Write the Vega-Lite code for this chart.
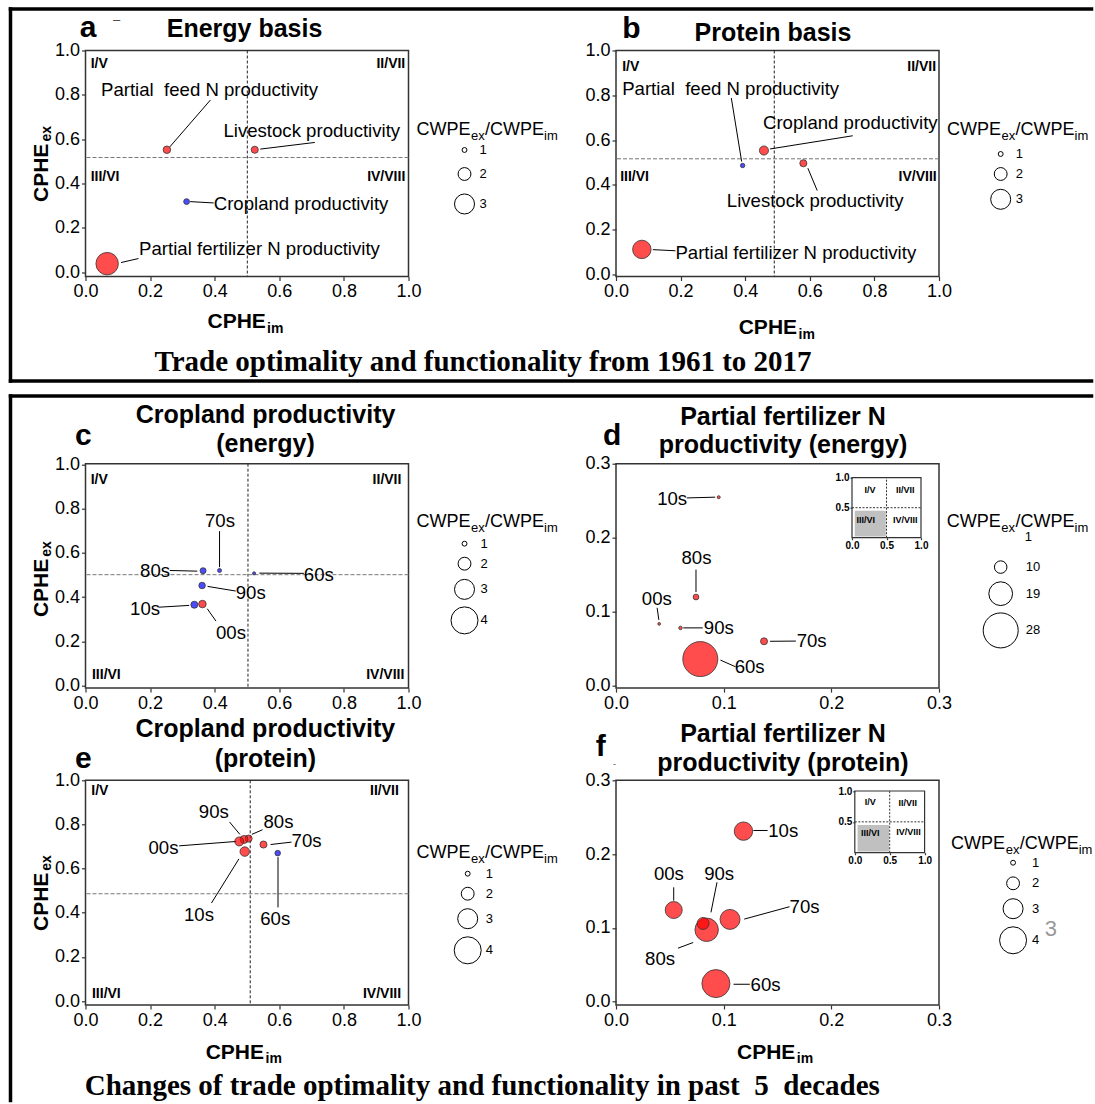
{
"$schema": "https://vega.github.io/schema/vega-lite/v6.json",
"background": "#ffffff",
"padding": {"left": 6.5, "top": 5.5, "right": 0, "bottom": 0},
"autosize": {"type": "pad"},
"columns": 2,
"bounds": "flush",
"align": "each",
"spacing": {"row": 91.6, "column": 207.5},
"resolve": {"scale": {"x": "independent", "y": "independent", "size": "independent", "color": "independent"}, "axis": {"x": "independent", "y": "independent"}},
"config": {
  "view": {"stroke": "#333", "strokeWidth": 1.5},
  "axis": {"labelFont": "Liberation Sans", "labelFontSize": 18, "labelColor": "#000", "tickColor": "#333", "tickSize": 4, "tickWidth": 1.2, "domain": false, "grid": false, "labelFlush": false, "labelPadding": 2},
  "text": {"font": "Liberation Sans", "color": "#000"}
},
"datasets": {
  "a_pts": [
    {"item": "Partial feed N productivity", "label": "Partial\u00a0 feed N productivity", "cphe_im": 0.252, "cphe_ex": 0.552, "ratio": 1.3, "group": "high", "lx": 0.048, "ly": 0.821, "x1": 0.261, "y1": 0.565, "x2": 0.387, "y2": 0.777},
    {"item": "Livestock productivity", "label": "Livestock productivity", "cphe_im": 0.524, "cphe_ex": 0.552, "ratio": 1.25, "group": "high", "lx": 0.427, "ly": 0.635, "x1": 0.541, "y1": 0.555, "x2": 0.71, "y2": 0.585},
    {"item": "Cropland productivity", "label": "Cropland productivity", "cphe_im": 0.313, "cphe_ex": 0.318, "ratio": 1.1, "group": "low", "lx": 0.397, "ly": 0.309, "x1": 0.324, "y1": 0.318, "x2": 0.397, "y2": 0.312},
    {"item": "Partial fertilizer N productivity", "label": "Partial fertilizer N productivity", "cphe_im": 0.067, "cphe_ex": 0.038, "ratio": 3.35, "group": "high", "lx": 0.166, "ly": 0.103, "x1": 0.11, "y1": 0.043, "x2": 0.164, "y2": 0.061}
  ],
  "b_pts": [
    {"item": "Partial feed N productivity", "label": "Partial\u00a0 feed N productivity", "cphe_im": 0.392, "cphe_ex": 0.486, "ratio": 0.95, "group": "low", "lx": 0.019, "ly": 0.828, "x1": 0.389, "y1": 0.504, "x2": 0.357, "y2": 0.788},
    {"item": "Cropland productivity", "label": "Cropland productivity", "cphe_im": 0.458, "cphe_ex": 0.553, "ratio": 1.5, "group": "high", "lx": 0.455, "ly": 0.676, "x1": 0.477, "y1": 0.56, "x2": 0.733, "y2": 0.619},
    {"item": "Livestock productivity", "label": "Livestock productivity", "cphe_im": 0.58, "cphe_ex": 0.496, "ratio": 1.25, "group": "high", "lx": 0.343, "ly": 0.327, "x1": 0.594, "y1": 0.474, "x2": 0.623, "y2": 0.374},
    {"item": "Partial fertilizer N productivity", "label": "Partial fertilizer N productivity", "cphe_im": 0.08, "cphe_ex": 0.111, "ratio": 2.78, "group": "high", "lx": 0.184, "ly": 0.096, "x1": 0.114, "y1": 0.11, "x2": 0.184, "y2": 0.105}
  ],
  "c_pts": [
    {"label": "60s", "cphe_im": 0.522, "cphe_ex": 0.507, "ratio": 0.83, "group": "low", "lx": 0.676, "ly": 0.501, "x1": 0.538, "y1": 0.508, "x2": 0.676, "y2": 0.507},
    {"label": "70s", "cphe_im": 0.415, "cphe_ex": 0.52, "ratio": 0.91, "group": "low", "lx": 0.37, "ly": 0.744, "x1": 0.415, "y1": 0.698, "x2": 0.415, "y2": 0.535},
    {"label": "80s", "cphe_im": 0.364, "cphe_ex": 0.519, "ratio": 1.12, "group": "low", "lx": 0.169, "ly": 0.516, "x1": 0.261, "y1": 0.52, "x2": 0.346, "y2": 0.517},
    {"label": "90s", "cphe_im": 0.361, "cphe_ex": 0.452, "ratio": 1.18, "group": "low", "lx": 0.465, "ly": 0.418, "x1": 0.378, "y1": 0.448, "x2": 0.465, "y2": 0.427},
    {"label": "00s", "cphe_im": 0.362, "cphe_ex": 0.368, "ratio": 1.3, "group": "high", "lx": 0.404, "ly": 0.237, "x1": 0.377, "y1": 0.347, "x2": 0.404, "y2": 0.291},
    {"label": "10s", "cphe_im": 0.337, "cphe_ex": 0.365, "ratio": 1.24, "group": "low", "lx": 0.138, "ly": 0.347, "x1": 0.228, "y1": 0.354, "x2": 0.321, "y2": 0.362}
  ],
  "d_pts": [
    {"label": "60s", "cphe_im": 0.0783, "cphe_ex": 0.0362, "ratio": 28, "group": "high", "lx": 0.1102, "ly": 0.0258, "x1": 0.097, "y1": 0.0348, "x2": 0.111, "y2": 0.0258},
    {"label": "70s", "cphe_im": 0.1375, "cphe_ex": 0.0602, "ratio": 5.6, "group": "high", "lx": 0.1678, "ly": 0.0602, "x1": 0.1431, "y1": 0.0602, "x2": 0.1671, "y2": 0.0605},
    {"label": "80s", "cphe_im": 0.0743, "cphe_ex": 0.12, "ratio": 4.6, "group": "high", "lx": 0.0608, "ly": 0.172, "x1": 0.0743, "y1": 0.157, "x2": 0.0743, "y2": 0.1267},
    {"label": "90s", "cphe_im": 0.0599, "cphe_ex": 0.0783, "ratio": 2.8, "group": "high", "lx": 0.0816, "ly": 0.0783, "x1": 0.0625, "y1": 0.0783, "x2": 0.0806, "y2": 0.0783},
    {"label": "00s", "cphe_im": 0.0401, "cphe_ex": 0.0837, "ratio": 2.2, "group": "high", "lx": 0.024, "ly": 0.1176, "x1": 0.0382, "y1": 0.1054, "x2": 0.0398, "y2": 0.0891},
    {"label": "10s", "cphe_im": 0.0954, "cphe_ex": 0.2548, "ratio": 2.4, "group": "high", "lx": 0.0382, "ly": 0.2525, "x1": 0.0658, "y1": 0.2538, "x2": 0.0921, "y2": 0.2548}
  ],
  "e_pts": [
    {"label": "60s", "cphe_im": 0.595, "cphe_ex": 0.67, "ratio": 1.07, "group": "low", "lx": 0.541, "ly": 0.371, "x1": 0.596, "y1": 0.652, "x2": 0.596, "y2": 0.424},
    {"label": "70s", "cphe_im": 0.551, "cphe_ex": 0.709, "ratio": 1.25, "group": "high", "lx": 0.638, "ly": 0.723, "x1": 0.573, "y1": 0.709, "x2": 0.638, "y2": 0.72},
    {"label": "80s", "cphe_im": 0.505, "cphe_ex": 0.736, "ratio": 1.25, "group": "high", "lx": 0.551, "ly": 0.811, "x1": 0.515, "y1": 0.755, "x2": 0.548, "y2": 0.776},
    {"label": "90s", "cphe_im": 0.491, "cphe_ex": 0.732, "ratio": 1.36, "group": "high", "lx": 0.351, "ly": 0.856, "x1": 0.446, "y1": 0.811, "x2": 0.478, "y2": 0.755},
    {"label": "00s", "cphe_im": 0.476, "cphe_ex": 0.723, "ratio": 1.49, "group": "high", "lx": 0.195, "ly": 0.692, "x1": 0.29, "y1": 0.703, "x2": 0.467, "y2": 0.723},
    {"label": "10s", "cphe_im": 0.493, "cphe_ex": 0.677, "ratio": 1.55, "group": "high", "lx": 0.305, "ly": 0.391, "x1": 0.39, "y1": 0.444, "x2": 0.475, "y2": 0.644}
  ],
  "f_pts": [
    {"label": "60s", "cphe_im": 0.0928, "cphe_ex": 0.0245, "ratio": 4.15, "group": "high", "lx": 0.125, "ly": 0.0227, "x1": 0.1092, "y1": 0.0236, "x2": 0.1243, "y2": 0.0236},
    {"label": "70s", "cphe_im": 0.1059, "cphe_ex": 0.1115, "ratio": 3.0, "group": "high", "lx": 0.1612, "ly": 0.1287, "x1": 0.1191, "y1": 0.1119, "x2": 0.1612, "y2": 0.1287},
    {"label": "80s", "cphe_im": 0.0842, "cphe_ex": 0.0974, "ratio": 3.49, "group": "high", "lx": 0.027, "ly": 0.0575, "x1": 0.0576, "y1": 0.0725, "x2": 0.0717, "y2": 0.0802},
    {"label": "90s", "cphe_im": 0.0809, "cphe_ex": 0.106, "ratio": 1.89, "group": "high", "lx": 0.0819, "ly": 0.173, "x1": 0.0938, "y1": 0.1618, "x2": 0.0882, "y2": 0.121},
    {"label": "00s", "cphe_im": 0.0536, "cphe_ex": 0.1242, "ratio": 2.58, "group": "high", "lx": 0.0352, "ly": 0.173, "x1": 0.0536, "y1": 0.155, "x2": 0.0536, "y2": 0.137},
    {"label": "10s", "cphe_im": 0.1184, "cphe_ex": 0.2311, "ratio": 2.78, "group": "high", "lx": 0.1414, "ly": 0.2311, "x1": 0.1276, "y1": 0.232, "x2": 0.1408, "y2": 0.232}
  ]
},
"concat": [
{
  "width": 323, "height": 226,
  "layer": [
    {"data": {"values": [{}]}, "mark": {"type": "rule", "color": "#000", "strokeWidth": 3.5, "strokeCap": "square"}, "encoding": {"x": {"datum": -0.2322}, "x2": {"datum": 3.1146}, "y": {"datum": 1.1873}}},
    {"data": {"values": [{}]}, "mark": {"type": "rule", "color": "#000", "strokeWidth": 3.5, "strokeCap": "square"}, "encoding": {"x": {"datum": -0.2322}, "x2": {"datum": 3.1146}, "y": {"datum": -0.4917}}},
    {"data": {"values": [{}]}, "mark": {"type": "rule", "color": "#000", "strokeWidth": 3.5, "strokeCap": "square"}, "encoding": {"x": {"datum": -0.2322}, "y": {"datum": 1.1873}, "y2": {"datum": -0.4917}}},
    {"data": {"values": [{}]}, "mark": {"type": "rule", "color": "#222", "strokeWidth": 1, "strokeDash": [3, 2]}, "encoding": {"x": {"datum": 0.501}}},
    {"data": {"values": [{}]}, "mark": {"type": "rule", "color": "#777", "strokeWidth": 1, "strokeDash": [4, 2]}, "encoding": {"y": {"datum": 0.517}}},
    {"data": {"name": "a_pts"}, "mark": {"type": "rule", "color": "#000", "strokeWidth": 1}, "encoding": {"x": {"field": "x1", "type": "quantitative", "title": null}, "y": {"field": "y1", "type": "quantitative", "title": null}, "x2": {"field": "x2"}, "y2": {"field": "y2"}}},
    {"data": {"name": "a_pts"}, "mark": {"type": "circle", "opacity": 1, "fillOpacity": 0.7, "stroke": "#333", "strokeWidth": 0.8},
     "encoding": {
       "x": {"field": "cphe_im", "type": "quantitative", "title": null, "scale": {"domain": [0, 1], "nice": false}, "axis": {"values": [0, 0.2, 0.4, 0.6, 0.8, 1], "format": ".1f", "labelFlush": false, "title": null}},
       "y": {"field": "cphe_ex", "type": "quantitative", "title": null, "scale": {"domain": [-0.02, 1], "nice": false}, "axis": {"values": [0, 0.2, 0.4, 0.6, 0.8, 1], "format": ".1f", "labelFlush": false, "title": null}},
       "size": {"field": "ratio", "type": "quantitative", "scale": {"type": "pow", "exponent": 2, "domain": [0.7, 3], "range": [0, 400], "zero": false}, "legend": null},
       "color": {"field": "group", "type": "nominal", "scale": {"domain": ["high", "low"], "range": ["#ff0000", "#0000ff"]}, "legend": null}}},
    {"data": {"name": "a_pts"}, "mark": {"type": "text", "fontSize": 18.6, "align": "left", "baseline": "middle"}, "encoding": {"x": {"field": "lx", "type": "quantitative", "title": null}, "y": {"field": "ly", "type": "quantitative", "title": null}, "text": {"field": "label"}}},
    {"data": {"values": [{}]}, "mark": {"type": "text", "text": "I/V", "fontSize": 14, "fontWeight": "bold", "align": "left", "baseline": "middle"}, "encoding": {"x": {"datum": 0.016}, "y": {"datum": 0.939}}},
    {"data": {"values": [{}]}, "mark": {"type": "text", "text": "II/VII", "fontSize": 14, "fontWeight": "bold", "align": "right", "baseline": "middle"}, "encoding": {"x": {"datum": 0.99}, "y": {"datum": 0.939}}},
    {"data": {"values": [{}]}, "mark": {"type": "text", "text": "III/VI", "fontSize": 14, "fontWeight": "bold", "align": "left", "baseline": "middle"}, "encoding": {"x": {"datum": 0.016}, "y": {"datum": 0.43}}},
    {"data": {"values": [{}]}, "mark": {"type": "text", "text": "IV/VIII", "fontSize": 14, "fontWeight": "bold", "align": "right", "baseline": "middle"}, "encoding": {"x": {"datum": 0.99}, "y": {"datum": 0.43}}},
    {"data": {"values": [{}]}, "mark": {"type": "text", "text": "Energy basis", "fontSize": 25, "fontWeight": "bold", "align": "center", "baseline": "middle"}, "encoding": {"x": {"datum": 0.4923}, "y": {"datum": 1.0957}}},
    {"data": {"values": [{}]}, "mark": {"type": "text", "text": "a", "fontSize": 30, "fontWeight": "bold", "align": "center", "baseline": "alphabetic"}, "encoding": {"x": {"datum": 0.0077}, "y": {"datum": 1.0609}}},
    {"data": {"values": [{}]}, "mark": {"type": "text", "text": "\u2013", "fontSize": 13, "align": "center", "baseline": "middle", "color": "#444"}, "encoding": {"x": {"datum": 0.096}, "y": {"datum": 1.1377}}},
    {"data": {"values": [{}]}, "mark": {"type": "text", "text": "CPHE", "fontSize": 21, "fontWeight": "bold", "align": "left", "baseline": "alphabetic", "angle": 270}, "encoding": {"x": {"datum": -0.1176}, "y": {"datum": 0.3163}}},
    {"data": {"values": [{}]}, "mark": {"type": "text", "text": "ex", "fontSize": 14, "fontWeight": "bold", "align": "left", "baseline": "alphabetic", "angle": 270}, "encoding": {"x": {"datum": -0.1068}, "y": {"datum": 0.5893}}},
    {"data": {"values": [{}]}, "mark": {"type": "text", "text": "CPHE", "fontSize": 21, "fontWeight": "bold", "align": "left", "baseline": "alphabetic"}, "encoding": {"x": {"datum": 0.3777}, "y": {"datum": -0.2524}}},
    {"data": {"values": [{}]}, "mark": {"type": "text", "text": "im", "fontSize": 14, "fontWeight": "bold", "align": "left", "baseline": "alphabetic"}, "encoding": {"x": {"datum": 0.5619}, "y": {"datum": -0.2749}}},
    {"data": {"values": [{}]}, "mark": {"type": "text", "text": "CWPE", "fontSize": 18, "align": "left", "baseline": "alphabetic"}, "encoding": {"x": {"datum": 1.0248}, "y": {"datum": 0.62}}},
    {"data": {"values": [{}]}, "mark": {"type": "text", "text": "ex", "fontSize": 13, "align": "left", "baseline": "alphabetic"}, "encoding": {"x": {"datum": 1.1935}, "y": {"datum": 0.5974}}},
    {"data": {"values": [{}]}, "mark": {"type": "text", "text": "/CWPE", "fontSize": 18, "align": "left", "baseline": "alphabetic"}, "encoding": {"x": {"datum": 1.2368}, "y": {"datum": 0.62}}},
    {"data": {"values": [{}]}, "mark": {"type": "text", "text": "im", "fontSize": 13, "align": "left", "baseline": "alphabetic"}, "encoding": {"x": {"datum": 1.4195}, "y": {"datum": 0.5974}}},
    {"data": {"values": [{"ratio": 1}]}, "encoding": {"x": {"datum": 1.1734}, "y": {"datum": 0.551}}, "layer": [
      {"mark": {"type": "point", "shape": "circle", "filled": false, "color": "#000", "strokeWidth": 1, "opacity": 1}, "encoding": {"size": {"field": "ratio", "type": "quantitative", "scale": {"type": "pow", "exponent": 2, "domain": [0.7, 3], "range": [0, 400], "zero": false}, "legend": null}}},
      {"mark": {"type": "text", "text": "1", "fontSize": 13, "align": "left", "baseline": "middle", "dx": 15}}]},
    {"data": {"values": [{"ratio": 2}]}, "encoding": {"x": {"datum": 1.1734}, "y": {"datum": 0.4426}}, "layer": [
      {"mark": {"type": "point", "shape": "circle", "filled": false, "color": "#000", "strokeWidth": 1, "opacity": 1}, "encoding": {"size": {"field": "ratio", "type": "quantitative", "scale": {"type": "pow", "exponent": 2, "domain": [0.7, 3], "range": [0, 400], "zero": false}, "legend": null}}},
      {"mark": {"type": "text", "text": "2", "fontSize": 13, "align": "left", "baseline": "middle", "dx": 15}}]},
    {"data": {"values": [{"ratio": 3}]}, "encoding": {"x": {"datum": 1.1734}, "y": {"datum": 0.3073}}, "layer": [
      {"mark": {"type": "point", "shape": "circle", "filled": false, "color": "#000", "strokeWidth": 1, "opacity": 1}, "encoding": {"size": {"field": "ratio", "type": "quantitative", "scale": {"type": "pow", "exponent": 2, "domain": [0.7, 3], "range": [0, 400], "zero": false}, "legend": null}}},
      {"mark": {"type": "text", "text": "3", "fontSize": 13, "align": "left", "baseline": "middle", "dx": 15}}]},
    {"data": {"values": [{}]}, "mark": {"type": "text", "text": "Trade optimality and functionality from 1961 to 2017", "font": "Liberation Serif", "fontSize": 29, "fontWeight": "bold", "align": "left", "baseline": "middle"}, "encoding": {"x": {"datum": 0.2136}, "y": {"datum": -0.4058}}}
  ]
},
{
  "width": 323, "height": 226,
  "layer": [
    {"data": {"values": [{}]}, "mark": {"type": "rule", "color": "#222", "strokeWidth": 1, "strokeDash": [3, 2]}, "encoding": {"x": {"datum": 0.49}}},
    {"data": {"values": [{}]}, "mark": {"type": "rule", "color": "#777", "strokeWidth": 1, "strokeDash": [4, 2]}, "encoding": {"y": {"datum": 0.516}}},
    {"data": {"name": "b_pts"}, "mark": {"type": "rule", "color": "#000", "strokeWidth": 1}, "encoding": {"x": {"field": "x1", "type": "quantitative", "title": null}, "y": {"field": "y1", "type": "quantitative", "title": null}, "x2": {"field": "x2"}, "y2": {"field": "y2"}}},
    {"data": {"name": "b_pts"}, "mark": {"type": "circle", "opacity": 1, "fillOpacity": 0.7, "stroke": "#333", "strokeWidth": 0.8},
     "encoding": {
       "x": {"field": "cphe_im", "type": "quantitative", "title": null, "scale": {"domain": [0, 1], "nice": false}, "axis": {"values": [0, 0.2, 0.4, 0.6, 0.8, 1], "format": ".1f", "labelFlush": false, "title": null}},
       "y": {"field": "cphe_ex", "type": "quantitative", "title": null, "scale": {"domain": [-0.01, 1], "nice": false}, "axis": {"values": [0, 0.2, 0.4, 0.6, 0.8, 1], "format": ".1f", "labelFlush": false, "title": null}},
       "size": {"field": "ratio", "type": "quantitative", "scale": {"type": "pow", "exponent": 2, "domain": [0.7, 3], "range": [0, 400], "zero": false}, "legend": null},
       "color": {"field": "group", "type": "nominal", "scale": {"domain": ["high", "low"], "range": ["#ff0000", "#0000ff"]}, "legend": null}}},
    {"data": {"name": "b_pts"}, "mark": {"type": "text", "fontSize": 18.6, "align": "left", "baseline": "middle"}, "encoding": {"x": {"field": "lx", "type": "quantitative", "title": null}, "y": {"field": "ly", "type": "quantitative", "title": null}, "text": {"field": "label"}}},
    {"data": {"values": [{}]}, "mark": {"type": "text", "text": "I/V", "fontSize": 14, "fontWeight": "bold", "align": "left", "baseline": "middle"}, "encoding": {"x": {"datum": 0.019}, "y": {"datum": 0.925}}},
    {"data": {"values": [{}]}, "mark": {"type": "text", "text": "II/VII", "fontSize": 14, "fontWeight": "bold", "align": "right", "baseline": "middle"}, "encoding": {"x": {"datum": 0.991}, "y": {"datum": 0.925}}},
    {"data": {"values": [{}]}, "mark": {"type": "text", "text": "III/VI", "fontSize": 14, "fontWeight": "bold", "align": "left", "baseline": "middle"}, "encoding": {"x": {"datum": 0.013}, "y": {"datum": 0.436}}},
    {"data": {"values": [{}]}, "mark": {"type": "text", "text": "IV/VIII", "fontSize": 14, "fontWeight": "bold", "align": "right", "baseline": "middle"}, "encoding": {"x": {"datum": 0.993}, "y": {"datum": 0.436}}},
    {"data": {"values": [{}]}, "mark": {"type": "text", "text": "Protein basis", "fontSize": 25, "fontWeight": "bold", "align": "center", "baseline": "middle"}, "encoding": {"x": {"datum": 0.486}, "y": {"datum": 1.0782}}},
    {"data": {"values": [{}]}, "mark": {"type": "text", "text": "b", "fontSize": 30, "fontWeight": "bold", "align": "center", "baseline": "alphabetic"}, "encoding": {"x": {"datum": 0.048}, "y": {"datum": 1.0559}}},
    {"data": {"values": [{}]}, "mark": {"type": "text", "text": "CPHE", "fontSize": 21, "fontWeight": "bold", "align": "left", "baseline": "alphabetic"}, "encoding": {"x": {"datum": 0.3799}, "y": {"datum": -0.267}}},
    {"data": {"values": [{}]}, "mark": {"type": "text", "text": "im", "fontSize": 14, "fontWeight": "bold", "align": "left", "baseline": "alphabetic"}, "encoding": {"x": {"datum": 0.565}, "y": {"datum": -0.2893}}},
    {"data": {"values": [{}]}, "mark": {"type": "text", "text": "CWPE", "fontSize": 18, "align": "left", "baseline": "alphabetic"}, "encoding": {"x": {"datum": 1.0245}, "y": {"datum": 0.6224}}},
    {"data": {"values": [{}]}, "mark": {"type": "text", "text": "ex", "fontSize": 13, "align": "left", "baseline": "alphabetic"}, "encoding": {"x": {"datum": 1.1932}, "y": {"datum": 0.6}}},
    {"data": {"values": [{}]}, "mark": {"type": "text", "text": "/CWPE", "fontSize": 18, "align": "left", "baseline": "alphabetic"}, "encoding": {"x": {"datum": 1.2365}, "y": {"datum": 0.6224}}},
    {"data": {"values": [{}]}, "mark": {"type": "text", "text": "im", "fontSize": 13, "align": "left", "baseline": "alphabetic"}, "encoding": {"x": {"datum": 1.4195}, "y": {"datum": 0.6}}},
    {"data": {"values": [{"ratio": 1}]}, "encoding": {"x": {"datum": 1.191}, "y": {"datum": 0.5375}}, "layer": [
      {"mark": {"type": "point", "shape": "circle", "filled": false, "color": "#000", "strokeWidth": 1, "opacity": 1}, "encoding": {"size": {"field": "ratio", "type": "quantitative", "scale": {"type": "pow", "exponent": 2, "domain": [0.7, 3], "range": [0, 400], "zero": false}, "legend": null}}},
      {"mark": {"type": "text", "text": "1", "fontSize": 13, "align": "left", "baseline": "middle", "dx": 15}}]},
    {"data": {"values": [{"ratio": 2}]}, "encoding": {"x": {"datum": 1.191}, "y": {"datum": 0.4481}}, "layer": [
      {"mark": {"type": "point", "shape": "circle", "filled": false, "color": "#000", "strokeWidth": 1, "opacity": 1}, "encoding": {"size": {"field": "ratio", "type": "quantitative", "scale": {"type": "pow", "exponent": 2, "domain": [0.7, 3], "range": [0, 400], "zero": false}, "legend": null}}},
      {"mark": {"type": "text", "text": "2", "fontSize": 13, "align": "left", "baseline": "middle", "dx": 15}}]},
    {"data": {"values": [{"ratio": 3}]}, "encoding": {"x": {"datum": 1.191}, "y": {"datum": 0.335}}, "layer": [
      {"mark": {"type": "point", "shape": "circle", "filled": false, "color": "#000", "strokeWidth": 1, "opacity": 1}, "encoding": {"size": {"field": "ratio", "type": "quantitative", "scale": {"type": "pow", "exponent": 2, "domain": [0.7, 3], "range": [0, 400], "zero": false}, "legend": null}}},
      {"mark": {"type": "text", "text": "3", "fontSize": 13, "align": "left", "baseline": "middle", "dx": 15}}]}
  ]
},
{"width": 10, "height": 3.6, "view": {"stroke": null}, "data": {"values": []}, "mark": "point"},
{"width": 10, "height": 3.6, "view": {"stroke": null}, "data": {"values": []}, "mark": "point"},
{
  "width": 323, "height": 224.4,
  "layer": [
    {"data": {"values": [{}]}, "mark": {"type": "rule", "color": "#000", "strokeWidth": 3.5, "strokeCap": "square"}, "encoding": {"x": {"datum": -0.2322}, "x2": {"datum": 3.1146}, "y": {"datum": 1.3088}}},
    {"data": {"values": [{}]}, "mark": {"type": "rule", "color": "#000", "strokeWidth": 3.5, "strokeCap": "square"}, "encoding": {"x": {"datum": -0.2322}, "y": {"datum": 1.3088}, "y2": {"datum": -1.8768}}},
    {"data": {"values": [{}]}, "mark": {"type": "rule", "color": "#222", "strokeWidth": 1, "strokeDash": [3, 2]}, "encoding": {"x": {"datum": 0.503}}},
    {"data": {"values": [{}]}, "mark": {"type": "rule", "color": "#777", "strokeWidth": 1, "strokeDash": [4, 2]}, "encoding": {"y": {"datum": 0.501}}},
    {"data": {"name": "c_pts"}, "mark": {"type": "rule", "color": "#000", "strokeWidth": 1}, "encoding": {"x": {"field": "x1", "type": "quantitative", "title": null}, "y": {"field": "y1", "type": "quantitative", "title": null}, "x2": {"field": "x2"}, "y2": {"field": "y2"}}},
    {"data": {"name": "c_pts"}, "mark": {"type": "circle", "opacity": 1, "fillOpacity": 0.7, "stroke": "#333", "strokeWidth": 0.8},
     "encoding": {
       "x": {"field": "cphe_im", "type": "quantitative", "title": null, "scale": {"domain": [0, 1], "nice": false}, "axis": {"values": [0, 0.2, 0.4, 0.6, 0.8, 1], "format": ".1f", "labelFlush": false, "title": null}},
       "y": {"field": "cphe_ex", "type": "quantitative", "title": null, "scale": {"domain": [-0.012, 1.003], "nice": false}, "axis": {"values": [0, 0.2, 0.4, 0.6, 0.8, 1], "format": ".1f", "labelFlush": false, "title": null}},
       "size": {"field": "ratio", "type": "quantitative", "scale": {"type": "pow", "exponent": 2, "domain": [0.7, 3], "range": [0, 400], "zero": false}, "legend": null},
       "color": {"field": "group", "type": "nominal", "scale": {"domain": ["high", "low"], "range": ["#ff0000", "#0000ff"]}, "legend": null}}},
    {"data": {"name": "c_pts"}, "mark": {"type": "text", "fontSize": 18.6, "align": "left", "baseline": "middle"}, "encoding": {"x": {"field": "lx", "type": "quantitative", "title": null}, "y": {"field": "ly", "type": "quantitative", "title": null}, "text": {"field": "label"}}},
    {"data": {"values": [{}]}, "mark": {"type": "text", "text": "I/V", "fontSize": 14, "fontWeight": "bold", "align": "left", "baseline": "middle"}, "encoding": {"x": {"datum": 0.016}, "y": {"datum": 0.931}}},
    {"data": {"values": [{}]}, "mark": {"type": "text", "text": "II/VII", "fontSize": 14, "fontWeight": "bold", "align": "right", "baseline": "middle"}, "encoding": {"x": {"datum": 0.978}, "y": {"datum": 0.931}}},
    {"data": {"values": [{}]}, "mark": {"type": "text", "text": "III/VI", "fontSize": 14, "fontWeight": "bold", "align": "left", "baseline": "middle"}, "encoding": {"x": {"datum": 0.02}, "y": {"datum": 0.045}}},
    {"data": {"values": [{}]}, "mark": {"type": "text", "text": "IV/VIII", "fontSize": 14, "fontWeight": "bold", "align": "right", "baseline": "middle"}, "encoding": {"x": {"datum": 0.987}, "y": {"datum": 0.045}}},
    {"data": {"values": [{}]}, "mark": {"type": "text", "text": "Cropland productivity", "fontSize": 25, "fontWeight": "bold", "align": "center", "baseline": "middle"}, "encoding": {"x": {"datum": 0.5573}, "y": {"datum": 1.2215}}},
    {"data": {"values": [{}]}, "mark": {"type": "text", "text": "(energy)", "fontSize": 25, "fontWeight": "bold", "align": "center", "baseline": "middle"}, "encoding": {"x": {"datum": 0.5573}, "y": {"datum": 1.0935}}},
    {"data": {"values": [{}]}, "mark": {"type": "text", "text": "c", "fontSize": 30, "fontWeight": "bold", "align": "center", "baseline": "alphabetic"}, "encoding": {"x": {"datum": -0.0068}, "y": {"datum": 1.0858}}},
    {"data": {"values": [{}]}, "mark": {"type": "text", "text": "CPHE", "fontSize": 21, "fontWeight": "bold", "align": "left", "baseline": "alphabetic", "angle": 270}, "encoding": {"x": {"datum": -0.1164}, "y": {"datum": 0.3092}}},
    {"data": {"values": [{}]}, "mark": {"type": "text", "text": "ex", "fontSize": 14, "fontWeight": "bold", "align": "left", "baseline": "alphabetic", "angle": 270}, "encoding": {"x": {"datum": -0.1059}, "y": {"datum": 0.582}}},
    {"data": {"values": [{}]}, "mark": {"type": "text", "text": "CWPE", "fontSize": 18, "align": "left", "baseline": "alphabetic"}, "encoding": {"x": {"datum": 1.0248}, "y": {"datum": 0.7149}}},
    {"data": {"values": [{}]}, "mark": {"type": "text", "text": "ex", "fontSize": 13, "align": "left", "baseline": "alphabetic"}, "encoding": {"x": {"datum": 1.1935}, "y": {"datum": 0.6923}}},
    {"data": {"values": [{}]}, "mark": {"type": "text", "text": "/CWPE", "fontSize": 18, "align": "left", "baseline": "alphabetic"}, "encoding": {"x": {"datum": 1.2368}, "y": {"datum": 0.7149}}},
    {"data": {"values": [{}]}, "mark": {"type": "text", "text": "im", "fontSize": 13, "align": "left", "baseline": "alphabetic"}, "encoding": {"x": {"datum": 1.4195}, "y": {"datum": 0.6923}}},
    {"data": {"values": [{"ratio": 1}]}, "encoding": {"x": {"datum": 1.1734}, "y": {"datum": 0.6412}}, "layer": [
      {"mark": {"type": "point", "shape": "circle", "filled": false, "color": "#000", "strokeWidth": 1, "opacity": 1}, "encoding": {"size": {"field": "ratio", "type": "quantitative", "scale": {"type": "pow", "exponent": 2, "domain": [0.7, 3], "range": [0, 400], "zero": false}, "legend": null}}},
      {"mark": {"type": "text", "text": "1", "fontSize": 13, "align": "left", "baseline": "middle", "dx": 16}}]},
    {"data": {"values": [{"ratio": 2}]}, "encoding": {"x": {"datum": 1.1734}, "y": {"datum": 0.5507}}, "layer": [
      {"mark": {"type": "point", "shape": "circle", "filled": false, "color": "#000", "strokeWidth": 1, "opacity": 1}, "encoding": {"size": {"field": "ratio", "type": "quantitative", "scale": {"type": "pow", "exponent": 2, "domain": [0.7, 3], "range": [0, 400], "zero": false}, "legend": null}}},
      {"mark": {"type": "text", "text": "2", "fontSize": 13, "align": "left", "baseline": "middle", "dx": 16}}]},
    {"data": {"values": [{"ratio": 3}]}, "encoding": {"x": {"datum": 1.1734}, "y": {"datum": 0.4345}}, "layer": [
      {"mark": {"type": "point", "shape": "circle", "filled": false, "color": "#000", "strokeWidth": 1, "opacity": 1}, "encoding": {"size": {"field": "ratio", "type": "quantitative", "scale": {"type": "pow", "exponent": 2, "domain": [0.7, 3], "range": [0, 400], "zero": false}, "legend": null}}},
      {"mark": {"type": "text", "text": "3", "fontSize": 13, "align": "left", "baseline": "middle", "dx": 16}}]},
    {"data": {"values": [{"ratio": 4}]}, "encoding": {"x": {"datum": 1.1734}, "y": {"datum": 0.2943}}, "layer": [
      {"mark": {"type": "point", "shape": "circle", "filled": false, "color": "#000", "strokeWidth": 1, "opacity": 1}, "encoding": {"size": {"field": "ratio", "type": "quantitative", "scale": {"type": "pow", "exponent": 2, "domain": [0.7, 3], "range": [0, 400], "zero": false}, "legend": null}}},
      {"mark": {"type": "text", "text": "4", "fontSize": 13, "align": "left", "baseline": "middle", "dx": 16}}]}
  ]
},
{
  "width": 323, "height": 224.4,
  "resolve": {"scale": {"x": "independent", "y": "independent"}, "axis": {"x": "independent", "y": "independent"}},
  "layer": [
    {"layer": [
      {"data": {"name": "d_pts"}, "mark": {"type": "rule", "color": "#000", "strokeWidth": 1}, "encoding": {"x": {"field": "x1", "type": "quantitative", "title": null}, "y": {"field": "y1", "type": "quantitative", "title": null}, "x2": {"field": "x2"}, "y2": {"field": "y2"}}},
      {"data": {"name": "d_pts"}, "mark": {"type": "circle", "opacity": 1, "fillOpacity": 0.7, "stroke": "#333", "strokeWidth": 0.8},
       "encoding": {
         "x": {"field": "cphe_im", "type": "quantitative", "title": null, "scale": {"domain": [0, 0.3], "nice": false}, "axis": {"orient": "bottom", "values": [0, 0.1, 0.2, 0.3], "format": ".1f", "labelFlush": false, "title": null}},
         "y": {"field": "cphe_ex", "type": "quantitative", "title": null, "scale": {"domain": [-0.003, 0.3], "nice": false}, "axis": {"orient": "left", "values": [0, 0.1, 0.2, 0.3], "format": ".1f", "labelFlush": false, "title": null}},
         "size": {"field": "ratio", "type": "quantitative", "scale": {"type": "pow", "exponent": 2, "domain": [0, 28], "range": [0, 1225], "zero": true}, "legend": null},
         "color": {"field": "group", "type": "nominal", "scale": {"domain": ["high", "low"], "range": ["#ff0000", "#0000ff"]}, "legend": null}}},
      {"data": {"name": "d_pts"}, "mark": {"type": "text", "fontSize": 18.6, "align": "left", "baseline": "middle"}, "encoding": {"x": {"field": "lx", "type": "quantitative", "title": null}, "y": {"field": "ly", "type": "quantitative", "title": null}, "text": {"field": "label"}}},
      {"data": {"values": [{}]}, "mark": {"type": "text", "text": "Partial fertilizer N", "fontSize": 25, "fontWeight": "bold", "align": "center", "baseline": "middle"}, "encoding": {"x": {"datum": 0.1551}, "y": {"datum": 0.3629}}},
      {"data": {"values": [{}]}, "mark": {"type": "text", "text": "productivity (energy)", "fontSize": 25, "fontWeight": "bold", "align": "center", "baseline": "middle"}, "encoding": {"x": {"datum": 0.1551}, "y": {"datum": 0.3247}}},
      {"data": {"values": [{}]}, "mark": {"type": "text", "text": "d", "fontSize": 30, "fontWeight": "bold", "align": "center", "baseline": "alphabetic"}, "encoding": {"x": {"datum": -0.0035}, "y": {"datum": 0.3247}}},
      {"data": {"values": [{}]}, "mark": {"type": "text", "text": "CWPE", "fontSize": 18, "align": "left", "baseline": "alphabetic"}, "encoding": {"x": {"datum": 0.3073}, "y": {"datum": 0.214}}},
      {"data": {"values": [{}]}, "mark": {"type": "text", "text": "ex", "fontSize": 13, "align": "left", "baseline": "alphabetic"}, "encoding": {"x": {"datum": 0.3579}, "y": {"datum": 0.2072}}},
      {"data": {"values": [{}]}, "mark": {"type": "text", "text": "/CWPE", "fontSize": 18, "align": "left", "baseline": "alphabetic"}, "encoding": {"x": {"datum": 0.371}, "y": {"datum": 0.214}}},
      {"data": {"values": [{}]}, "mark": {"type": "text", "text": "im", "fontSize": 13, "align": "left", "baseline": "alphabetic"}, "encoding": {"x": {"datum": 0.4259}, "y": {"datum": 0.2072}}},
      {"data": {"values": [{}]}, "mark": {"type": "text", "text": "1", "fontSize": 13, "align": "center", "baseline": "middle"}, "encoding": {"x": {"datum": 0.3829}, "y": {"datum": 0.2005}}},
      {"data": {"values": [{"ratio": 10}]}, "encoding": {"x": {"datum": 0.3573}, "y": {"datum": 0.1604}}, "layer": [
        {"mark": {"type": "point", "shape": "circle", "filled": false, "color": "#000", "strokeWidth": 1, "opacity": 1}, "encoding": {"size": {"field": "ratio", "type": "quantitative", "scale": {"type": "pow", "exponent": 2, "domain": [0, 28], "range": [0, 1225], "zero": true}, "legend": null}}},
        {"mark": {"type": "text", "text": "10", "fontSize": 13, "align": "left", "baseline": "middle", "dx": 25}}]},
      {"data": {"values": [{"ratio": 19}]}, "encoding": {"x": {"datum": 0.3573}, "y": {"datum": 0.1245}}, "layer": [
        {"mark": {"type": "point", "shape": "circle", "filled": false, "color": "#000", "strokeWidth": 1, "opacity": 1}, "encoding": {"size": {"field": "ratio", "type": "quantitative", "scale": {"type": "pow", "exponent": 2, "domain": [0, 28], "range": [0, 1225], "zero": true}, "legend": null}}},
        {"mark": {"type": "text", "text": "19", "fontSize": 13, "align": "left", "baseline": "middle", "dx": 25}}]},
      {"data": {"values": [{"ratio": 28}]}, "encoding": {"x": {"datum": 0.3573}, "y": {"datum": 0.0749}}, "layer": [
        {"mark": {"type": "point", "shape": "circle", "filled": false, "color": "#000", "strokeWidth": 1, "opacity": 1}, "encoding": {"size": {"field": "ratio", "type": "quantitative", "scale": {"type": "pow", "exponent": 2, "domain": [0, 28], "range": [0, 1225], "zero": true}, "legend": null}}},
        {"mark": {"type": "text", "text": "28", "fontSize": 13, "align": "left", "baseline": "middle", "dx": 25}}]}
    ]},
    {"layer": [
      {"data": {"values": [{}]}, "mark": {"type": "rect", "fill": "#c0c0c0"}, "encoding": {
        "x": {"datum": 0.04, "type": "quantitative", "scale": {"domain": [0, 1], "range": [236, 305], "nice": false}, "axis": {"orient": "bottom", "offset": -150.4, "values": [0, 0.5, 1], "format": ".1f", "labelFlush": false, "labelFontSize": 10, "labelFontWeight": "bold", "tickSize": 2, "labelPadding": 1, "title": null}},
        "x2": {"datum": 0.49},
        "y": {"datum": 0.02, "type": "quantitative", "scale": {"domain": [0, 1], "range": [74, 14], "nice": false}, "axis": {"orient": "left", "offset": -236, "values": [0.5, 1], "format": ".1f", "labelFlush": false, "labelFontSize": 10, "labelFontWeight": "bold", "tickSize": 2, "labelPadding": 1, "title": null}},
        "y2": {"datum": 0.45}}},
      {"data": {"values": [{}]}, "mark": {"type": "rect", "fillOpacity": 0, "stroke": "#333", "strokeWidth": 1.2}, "encoding": {"x": {"datum": 0}, "x2": {"datum": 1}, "y": {"datum": 0}, "y2": {"datum": 1}}},
      {"data": {"values": [{}]}, "mark": {"type": "rule", "color": "#333", "strokeWidth": 1, "strokeDash": [2, 1.5]}, "encoding": {"x": {"datum": 0.5}, "y": {"datum": 0}, "y2": {"datum": 1}}},
      {"data": {"values": [{}]}, "mark": {"type": "rule", "color": "#333", "strokeWidth": 1, "strokeDash": [2, 1.5]}, "encoding": {"y": {"datum": 0.5}, "x": {"datum": 0}, "x2": {"datum": 1}}},
      {"data": {"values": [{}]}, "mark": {"type": "text", "text": "I/V", "fontSize": 9, "fontWeight": "bold", "align": "center", "baseline": "middle"}, "encoding": {"x": {"datum": 0.26}, "y": {"datum": 0.79}}},
      {"data": {"values": [{}]}, "mark": {"type": "text", "text": "II/VII", "fontSize": 9, "fontWeight": "bold", "align": "center", "baseline": "middle"}, "encoding": {"x": {"datum": 0.77}, "y": {"datum": 0.79}}},
      {"data": {"values": [{}]}, "mark": {"type": "text", "text": "III/VI", "fontSize": 9, "fontWeight": "bold", "align": "center", "baseline": "middle"}, "encoding": {"x": {"datum": 0.2}, "y": {"datum": 0.29}}},
      {"data": {"values": [{}]}, "mark": {"type": "text", "text": "IV/VIII", "fontSize": 9, "fontWeight": "bold", "align": "center", "baseline": "middle"}, "encoding": {"x": {"datum": 0.77}, "y": {"datum": 0.29}}}
    ]}
  ]
},
{
  "width": 323, "height": 224.7,
  "layer": [
    {"data": {"values": [{}]}, "mark": {"type": "rule", "color": "#222", "strokeWidth": 1, "strokeDash": [3, 2]}, "encoding": {"x": {"datum": 0.51}}},
    {"data": {"values": [{}]}, "mark": {"type": "rule", "color": "#777", "strokeWidth": 1, "strokeDash": [4, 2]}, "encoding": {"y": {"datum": 0.486}}},
    {"data": {"name": "e_pts"}, "mark": {"type": "rule", "color": "#000", "strokeWidth": 1}, "encoding": {"x": {"field": "x1", "type": "quantitative", "title": null}, "y": {"field": "y1", "type": "quantitative", "title": null}, "x2": {"field": "x2"}, "y2": {"field": "y2"}}},
    {"data": {"name": "e_pts"}, "mark": {"type": "circle", "opacity": 1, "fillOpacity": 0.7, "stroke": "#333", "strokeWidth": 0.8},
     "encoding": {
       "x": {"field": "cphe_im", "type": "quantitative", "title": null, "scale": {"domain": [0, 1], "nice": false}, "axis": {"values": [0, 0.2, 0.4, 0.6, 0.8, 1], "format": ".1f", "labelFlush": false, "title": null}},
       "y": {"field": "cphe_ex", "type": "quantitative", "title": null, "scale": {"domain": [-0.018, 1], "nice": false}, "axis": {"values": [0, 0.2, 0.4, 0.6, 0.8, 1], "format": ".1f", "labelFlush": false, "title": null}},
       "size": {"field": "ratio", "type": "quantitative", "scale": {"type": "pow", "exponent": 2, "domain": [0.7, 3], "range": [0, 400], "zero": false}, "legend": null},
       "color": {"field": "group", "type": "nominal", "scale": {"domain": ["high", "low"], "range": ["#ff0000", "#0000ff"]}, "legend": null}}},
    {"data": {"name": "e_pts"}, "mark": {"type": "text", "fontSize": 18.6, "align": "left", "baseline": "middle"}, "encoding": {"x": {"field": "lx", "type": "quantitative", "title": null}, "y": {"field": "ly", "type": "quantitative", "title": null}, "text": {"field": "label"}}},
    {"data": {"values": [{}]}, "mark": {"type": "text", "text": "I/V", "fontSize": 14, "fontWeight": "bold", "align": "left", "baseline": "middle"}, "encoding": {"x": {"datum": 0.018}, "y": {"datum": 0.95}}},
    {"data": {"values": [{}]}, "mark": {"type": "text", "text": "II/VII", "fontSize": 14, "fontWeight": "bold", "align": "right", "baseline": "middle"}, "encoding": {"x": {"datum": 0.97}, "y": {"datum": 0.95}}},
    {"data": {"values": [{}]}, "mark": {"type": "text", "text": "III/VI", "fontSize": 14, "fontWeight": "bold", "align": "left", "baseline": "middle"}, "encoding": {"x": {"datum": 0.02}, "y": {"datum": 0.033}}},
    {"data": {"values": [{}]}, "mark": {"type": "text", "text": "IV/VIII", "fontSize": 14, "fontWeight": "bold", "align": "right", "baseline": "middle"}, "encoding": {"x": {"datum": 0.977}, "y": {"datum": 0.033}}},
    {"data": {"values": [{}]}, "mark": {"type": "text", "text": "Cropland productivity", "fontSize": 25, "fontWeight": "bold", "align": "center", "baseline": "middle"}, "encoding": {"x": {"datum": 0.5567}, "y": {"datum": 1.2311}}},
    {"data": {"values": [{}]}, "mark": {"type": "text", "text": "(protein)", "fontSize": 25, "fontWeight": "bold", "align": "center", "baseline": "middle"}, "encoding": {"x": {"datum": 0.5567}, "y": {"datum": 1.0951}}},
    {"data": {"values": [{}]}, "mark": {"type": "text", "text": "e", "fontSize": 30, "fontWeight": "bold", "align": "center", "baseline": "alphabetic"}, "encoding": {"x": {"datum": -0.0068}, "y": {"datum": 1.0571}}},
    {"data": {"values": [{}]}, "mark": {"type": "text", "text": "CPHE", "fontSize": 21, "fontWeight": "bold", "align": "left", "baseline": "alphabetic", "angle": 270}, "encoding": {"x": {"datum": -0.1176}, "y": {"datum": 0.3173}}},
    {"data": {"values": [{}]}, "mark": {"type": "text", "text": "ex", "fontSize": 14, "fontWeight": "bold", "align": "left", "baseline": "alphabetic", "angle": 270}, "encoding": {"x": {"datum": -0.1068}, "y": {"datum": 0.5904}}},
    {"data": {"values": [{}]}, "mark": {"type": "text", "text": "CPHE", "fontSize": 21, "fontWeight": "bold", "align": "left", "baseline": "alphabetic"}, "encoding": {"x": {"datum": 0.3721}, "y": {"datum": -0.2604}}},
    {"data": {"values": [{}]}, "mark": {"type": "text", "text": "im", "fontSize": 14, "fontWeight": "bold", "align": "left", "baseline": "alphabetic"}, "encoding": {"x": {"datum": 0.5573}, "y": {"datum": -0.2808}}},
    {"data": {"values": [{}]}, "mark": {"type": "text", "text": "CWPE", "fontSize": 18, "align": "left", "baseline": "alphabetic"}, "encoding": {"x": {"datum": 1.0248}, "y": {"datum": 0.648}}},
    {"data": {"values": [{}]}, "mark": {"type": "text", "text": "ex", "fontSize": 13, "align": "left", "baseline": "alphabetic"}, "encoding": {"x": {"datum": 1.1935}, "y": {"datum": 0.6253}}},
    {"data": {"values": [{}]}, "mark": {"type": "text", "text": "/CWPE", "fontSize": 18, "align": "left", "baseline": "alphabetic"}, "encoding": {"x": {"datum": 1.2368}, "y": {"datum": 0.648}}},
    {"data": {"values": [{}]}, "mark": {"type": "text", "text": "im", "fontSize": 13, "align": "left", "baseline": "alphabetic"}, "encoding": {"x": {"datum": 1.4195}, "y": {"datum": 0.6253}}},
    {"data": {"values": [{"ratio": 1}]}, "encoding": {"x": {"datum": 1.1833}, "y": {"datum": 0.5769}}, "layer": [
      {"mark": {"type": "point", "shape": "circle", "filled": false, "color": "#000", "strokeWidth": 1, "opacity": 1}, "encoding": {"size": {"field": "ratio", "type": "quantitative", "scale": {"type": "pow", "exponent": 2, "domain": [0.7, 3], "range": [0, 400], "zero": false}, "legend": null}}},
      {"mark": {"type": "text", "text": "1", "fontSize": 13, "align": "left", "baseline": "middle", "dx": 18}}]},
    {"data": {"values": [{"ratio": 2}]}, "encoding": {"x": {"datum": 1.1833}, "y": {"datum": 0.4862}}, "layer": [
      {"mark": {"type": "point", "shape": "circle", "filled": false, "color": "#000", "strokeWidth": 1, "opacity": 1}, "encoding": {"size": {"field": "ratio", "type": "quantitative", "scale": {"type": "pow", "exponent": 2, "domain": [0.7, 3], "range": [0, 400], "zero": false}, "legend": null}}},
      {"mark": {"type": "text", "text": "2", "fontSize": 13, "align": "left", "baseline": "middle", "dx": 18}}]},
    {"data": {"values": [{"ratio": 3}]}, "encoding": {"x": {"datum": 1.1833}, "y": {"datum": 0.373}}, "layer": [
      {"mark": {"type": "point", "shape": "circle", "filled": false, "color": "#000", "strokeWidth": 1, "opacity": 1}, "encoding": {"size": {"field": "ratio", "type": "quantitative", "scale": {"type": "pow", "exponent": 2, "domain": [0.7, 3], "range": [0, 400], "zero": false}, "legend": null}}},
      {"mark": {"type": "text", "text": "3", "fontSize": 13, "align": "left", "baseline": "middle", "dx": 18}}]},
    {"data": {"values": [{"ratio": 4}]}, "encoding": {"x": {"datum": 1.1833}, "y": {"datum": 0.2298}}, "layer": [
      {"mark": {"type": "point", "shape": "circle", "filled": false, "color": "#000", "strokeWidth": 1, "opacity": 1}, "encoding": {"size": {"field": "ratio", "type": "quantitative", "scale": {"type": "pow", "exponent": 2, "domain": [0.7, 3], "range": [0, 400], "zero": false}, "legend": null}}},
      {"mark": {"type": "text", "text": "4", "fontSize": 13, "align": "left", "baseline": "middle", "dx": 18}}]},
    {"data": {"values": [{}]}, "mark": {"type": "text", "text": "Changes of trade optimality and functionality in past\u00a0 5\u00a0 decades", "font": "Liberation Serif", "fontSize": 29, "fontWeight": "bold", "align": "left", "baseline": "middle"}, "encoding": {"x": {"datum": -0.0025}, "y": {"datum": -0.385}}}
  ]
},
{
  "width": 323, "height": 224.7,
  "resolve": {"scale": {"x": "independent", "y": "independent"}, "axis": {"x": "independent", "y": "independent"}},
  "layer": [
    {"layer": [
      {"data": {"name": "f_pts"}, "mark": {"type": "rule", "color": "#000", "strokeWidth": 1}, "encoding": {"x": {"field": "x1", "type": "quantitative", "title": null}, "y": {"field": "y1", "type": "quantitative", "title": null}, "x2": {"field": "x2"}, "y2": {"field": "y2"}}},
      {"data": {"name": "f_pts"}, "mark": {"type": "circle", "opacity": 1, "fillOpacity": 0.7, "stroke": "#333", "strokeWidth": 0.8},
       "encoding": {
         "x": {"field": "cphe_im", "type": "quantitative", "title": null, "scale": {"domain": [0, 0.3], "nice": false}, "axis": {"orient": "bottom", "values": [0, 0.1, 0.2, 0.3], "format": ".1f", "labelFlush": false, "title": null}},
         "y": {"field": "cphe_ex", "type": "quantitative", "title": null, "scale": {"domain": [-0.0045, 0.3], "nice": false}, "axis": {"orient": "left", "values": [0, 0.1, 0.2, 0.3], "format": ".1f", "labelFlush": false, "title": null}},
         "size": {"field": "ratio", "type": "quantitative", "scale": {"type": "pow", "exponent": 2, "domain": [0.7, 3], "range": [0, 400], "zero": false}, "legend": null},
         "color": {"field": "group", "type": "nominal", "scale": {"domain": ["high", "low"], "range": ["#ff0000", "#0000ff"]}, "legend": null}}},
      {"data": {"name": "f_pts"}, "mark": {"type": "text", "fontSize": 18.6, "align": "left", "baseline": "middle"}, "encoding": {"x": {"field": "lx", "type": "quantitative", "title": null}, "y": {"field": "ly", "type": "quantitative", "title": null}, "text": {"field": "label"}}},
      {"data": {"values": [{}]}, "mark": {"type": "text", "text": "Partial fertilizer N", "fontSize": 25, "fontWeight": "bold", "align": "center", "baseline": "middle"}, "encoding": {"x": {"datum": 0.1551}, "y": {"datum": 0.3623}}},
      {"data": {"values": [{}]}, "mark": {"type": "text", "text": "productivity (protein)", "fontSize": 25, "fontWeight": "bold", "align": "center", "baseline": "middle"}, "encoding": {"x": {"datum": 0.1551}, "y": {"datum": 0.3239}}},
      {"data": {"values": [{}]}, "mark": {"type": "text", "text": "f", "fontSize": 30, "fontWeight": "bold", "align": "center", "baseline": "alphabetic"}, "encoding": {"x": {"datum": -0.0142}, "y": {"datum": 0.3329}}},
      {"data": {"values": [{}]}, "mark": {"type": "text", "text": "-", "fontSize": 9, "align": "center", "baseline": "middle", "color": "#555"}, "encoding": {"x": {"datum": -0.0014}, "y": {"datum": 0.3225}}},
      {"data": {"values": [{}]}, "mark": {"type": "text", "text": "CPHE", "fontSize": 21, "fontWeight": "bold", "align": "left", "baseline": "alphabetic"}, "encoding": {"x": {"datum": 0.1124}, "y": {"datum": -0.077}}},
      {"data": {"values": [{}]}, "mark": {"type": "text", "text": "im", "fontSize": 14, "fontWeight": "bold", "align": "left", "baseline": "alphabetic"}, "encoding": {"x": {"datum": 0.1679}, "y": {"datum": -0.0831}}},
      {"data": {"values": [{}]}, "mark": {"type": "text", "text": "CWPE", "fontSize": 18, "align": "left", "baseline": "alphabetic"}, "encoding": {"x": {"datum": 0.3112}, "y": {"datum": 0.2069}}},
      {"data": {"values": [{}]}, "mark": {"type": "text", "text": "ex", "fontSize": 13, "align": "left", "baseline": "alphabetic"}, "encoding": {"x": {"datum": 0.3619}, "y": {"datum": 0.2001}}},
      {"data": {"values": [{}]}, "mark": {"type": "text", "text": "/CWPE", "fontSize": 18, "align": "left", "baseline": "alphabetic"}, "encoding": {"x": {"datum": 0.3749}, "y": {"datum": 0.2069}}},
      {"data": {"values": [{}]}, "mark": {"type": "text", "text": "im", "fontSize": 13, "align": "left", "baseline": "alphabetic"}, "encoding": {"x": {"datum": 0.4297}, "y": {"datum": 0.2001}}},
      {"data": {"values": [{}]}, "mark": {"type": "text", "text": "3", "fontSize": 22, "align": "center", "baseline": "middle", "color": "#999"}, "encoding": {"x": {"datum": 0.4039}, "y": {"datum": 0.0981}}},
      {"data": {"values": [{"ratio": 1}]}, "encoding": {"x": {"datum": 0.3688}, "y": {"datum": 0.1883}}, "layer": [
        {"mark": {"type": "point", "shape": "circle", "filled": false, "color": "#000", "strokeWidth": 1, "opacity": 1}, "encoding": {"size": {"field": "ratio", "type": "quantitative", "scale": {"type": "pow", "exponent": 2, "domain": [0.7, 3], "range": [0, 400], "zero": false}, "legend": null}}},
        {"mark": {"type": "text", "text": "1", "fontSize": 13, "align": "left", "baseline": "middle", "dx": 19}}]},
      {"data": {"values": [{"ratio": 2}]}, "encoding": {"x": {"datum": 0.3688}, "y": {"datum": 0.1604}}, "layer": [
        {"mark": {"type": "point", "shape": "circle", "filled": false, "color": "#000", "strokeWidth": 1, "opacity": 1}, "encoding": {"size": {"field": "ratio", "type": "quantitative", "scale": {"type": "pow", "exponent": 2, "domain": [0.7, 3], "range": [0, 400], "zero": false}, "legend": null}}},
        {"mark": {"type": "text", "text": "2", "fontSize": 13, "align": "left", "baseline": "middle", "dx": 19}}]},
      {"data": {"values": [{"ratio": 3}]}, "encoding": {"x": {"datum": 0.3688}, "y": {"datum": 0.126}}, "layer": [
        {"mark": {"type": "point", "shape": "circle", "filled": false, "color": "#000", "strokeWidth": 1, "opacity": 1}, "encoding": {"size": {"field": "ratio", "type": "quantitative", "scale": {"type": "pow", "exponent": 2, "domain": [0.7, 3], "range": [0, 400], "zero": false}, "legend": null}}},
        {"mark": {"type": "text", "text": "3", "fontSize": 13, "align": "left", "baseline": "middle", "dx": 19}}]},
      {"data": {"values": [{"ratio": 4}]}, "encoding": {"x": {"datum": 0.3688}, "y": {"datum": 0.0832}}, "layer": [
        {"mark": {"type": "point", "shape": "circle", "filled": false, "color": "#000", "strokeWidth": 1, "opacity": 1}, "encoding": {"size": {"field": "ratio", "type": "quantitative", "scale": {"type": "pow", "exponent": 2, "domain": [0.7, 3], "range": [0, 400], "zero": false}, "legend": null}}},
        {"mark": {"type": "text", "text": "4", "fontSize": 13, "align": "left", "baseline": "middle", "dx": 19}}]}
    ]},
    {"layer": [
      {"data": {"values": [{}]}, "mark": {"type": "rect", "fill": "#c0c0c0"}, "encoding": {
        "x": {"datum": 0.04, "type": "quantitative", "scale": {"domain": [0, 1], "range": [238.8, 308.6], "nice": false}, "axis": {"orient": "bottom", "offset": -152.3, "values": [0, 0.5, 1], "format": ".1f", "labelFlush": false, "labelFontSize": 10, "labelFontWeight": "bold", "tickSize": 2, "labelPadding": 1, "title": null}},
        "x2": {"datum": 0.49},
        "y": {"datum": 0.02, "type": "quantitative", "scale": {"domain": [0, 1], "range": [72.4, 10.7], "nice": false}, "axis": {"orient": "left", "offset": -238.8, "values": [0.5, 1], "format": ".1f", "labelFlush": false, "labelFontSize": 10, "labelFontWeight": "bold", "tickSize": 2, "labelPadding": 1, "title": null}},
        "y2": {"datum": 0.45}}},
      {"data": {"values": [{}]}, "mark": {"type": "rect", "fillOpacity": 0, "stroke": "#333", "strokeWidth": 1.2}, "encoding": {"x": {"datum": 0}, "x2": {"datum": 1}, "y": {"datum": 0}, "y2": {"datum": 1}}},
      {"data": {"values": [{}]}, "mark": {"type": "rule", "color": "#333", "strokeWidth": 1, "strokeDash": [2, 1.5]}, "encoding": {"x": {"datum": 0.5}, "y": {"datum": 0}, "y2": {"datum": 1}}},
      {"data": {"values": [{}]}, "mark": {"type": "rule", "color": "#333", "strokeWidth": 1, "strokeDash": [2, 1.5]}, "encoding": {"y": {"datum": 0.5}, "x": {"datum": 0}, "x2": {"datum": 1}}},
      {"data": {"values": [{}]}, "mark": {"type": "text", "text": "I/V", "fontSize": 9, "fontWeight": "bold", "align": "center", "baseline": "middle"}, "encoding": {"x": {"datum": 0.22}, "y": {"datum": 0.82}}},
      {"data": {"values": [{}]}, "mark": {"type": "text", "text": "II/VII", "fontSize": 9, "fontWeight": "bold", "align": "center", "baseline": "middle"}, "encoding": {"x": {"datum": 0.76}, "y": {"datum": 0.8}}},
      {"data": {"values": [{}]}, "mark": {"type": "text", "text": "III/VI", "fontSize": 9, "fontWeight": "bold", "align": "center", "baseline": "middle"}, "encoding": {"x": {"datum": 0.22}, "y": {"datum": 0.32}}},
      {"data": {"values": [{}]}, "mark": {"type": "text", "text": "IV/VIII", "fontSize": 9, "fontWeight": "bold", "align": "center", "baseline": "middle"}, "encoding": {"x": {"datum": 0.77}, "y": {"datum": 0.34}}}
    ]}
  ]
}
]
}
